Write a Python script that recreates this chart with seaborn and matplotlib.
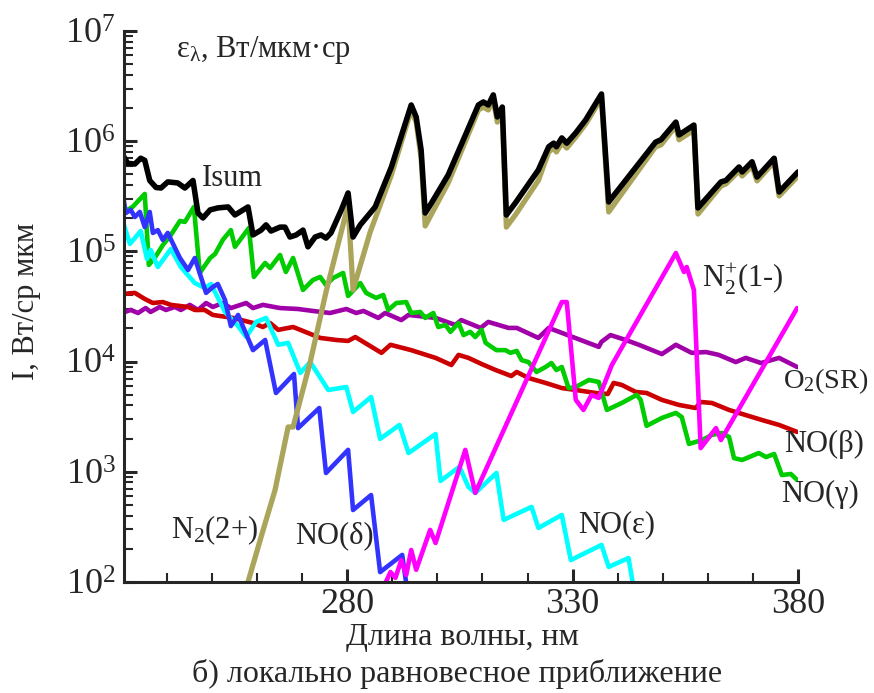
import matplotlib
matplotlib.use("Agg")
import matplotlib.pyplot as plt
import matplotlib.ticker as mticker
import seaborn as sns
import pandas as pd

# wavelength (nm) / intensity pairs
isum_x = [230.0, 231.3, 232.9, 234.2, 235.1, 236.2, 237.6, 238.7, 240.2, 242.4, 244.0, 245.8, 246.9, 248.0,
          249.6, 251.3, 253.6, 255.1, 258.0, 259.1, 260.9, 262.0, 263.1, 265.1, 266.2, 267.3, 268.7, 270.2,
          271.3, 272.9, 274.2, 275.3, 276.4, 278.7, 280.2, 281.3, 282.9, 285.1, 286.2, 289.8, 294.2, 295.3,
          296.4, 297.3, 298.7, 302.4, 309.1, 310.2, 311.3, 312.4, 313.3, 314.4, 315.3, 317.3, 322.4, 324.7,
          325.8, 326.4, 327.6, 328.7, 330.7, 332.9, 336.4, 338.0, 348.4, 349.6, 352.9, 353.6, 356.9, 357.8,
          362.9, 364.0, 366.9, 367.6, 369.8, 370.9, 374.7, 375.8, 380.0]
isum_y = [7.8e5, 6.3e5, 6.2e5, 7.0e5, 6.7e5, 4.4e5, 3.8e5, 3.76e5, 4.27e5, 4.18e5, 3.76e5, 4.4e5, 2.23e5, 2.01e5,
          2.38e5, 2.48e5, 2.53e5, 2.14e5, 2.53e5, 1.41e5, 1.56e5, 1.74e5, 1.53e5, 1.66e5, 1.66e5, 1.35e5, 1.41e5, 1.56e5,
          1.10e5, 1.35e5, 1.41e5, 1.32e5, 1.47e5, 2.38e5, 3.39e5, 1.35e5, 1.74e5, 2.23e5, 2.53e5, 5.83e5, 2.13e6, 1.66e6,
          8.3e5, 2.23e5, 2.75e5, 4.94e5, 2.13e6, 2.27e6, 2.13e6, 2.63e6, 1.66e6, 2.04e6, 2.14e5, 2.75e5, 5.48e5, 8.9e5,
          9.6e5, 8.9e5, 1.07e6, 9.6e5, 1.19e6, 1.56e6, 2.68e6, 2.81e5, 9.8e5, 1.03e6, 1.49e6, 1.14e6, 1.40e6, 2.48e5,
          4.27e5, 4.4e5, 5.83e5, 5.26e5, 6.5e5, 4.73e5, 7.0e5, 3.46e5, 5.26e5]

n2_2p_x = [258.0, 260.9, 264.0, 266.9, 268.0, 271.8, 275.3, 280.2, 281.3, 285.1, 289.8, 294.2, 295.3, 296.4,
           297.3, 298.7, 302.4, 309.1, 310.2, 311.3, 312.4, 313.3, 314.4, 315.3, 317.3, 322.4, 324.7, 325.8,
           326.4, 327.6, 328.7, 330.7, 332.9, 336.4, 338.0, 348.4, 349.6, 352.9, 353.6, 356.9, 357.8, 362.9,
           364.0, 366.9, 367.6, 369.8, 370.9, 374.7, 375.8, 380.0]
n2_2p_y = [100, 256, 684, 2550, 2550, 9900, 4.28e4, 2.64e5, 4.47e4, 1.50e5, 4.94e5, 1.92e6, 1.49e6, 7.0e5,
           1.70e5, 2.18e5, 4.18e5, 1.92e6, 2.04e6, 1.92e6, 2.37e6, 1.49e6, 1.84e6, 1.66e5, 2.14e5, 4.4e5, 7.98e5, 8.67e5,
           7.98e5, 9.6e5, 8.67e5, 1.09e6, 1.43e6, 2.47e6, 2.28e5, 8.9e5, 9.25e5, 1.37e6, 1.03e6, 1.26e6, 2.18e5, 3.92e5,
           4.09e5, 5.37e5, 4.83e5, 5.96e5, 4.36e5, 6.5e5, 3.18e5, 4.83e5]

no_g_x = [230.0, 232.4, 235.1, 236.0, 237.3, 239.1, 240.9, 242.9, 244.0, 246.0, 247.3, 249.6, 250.7, 252.4,
          254.2, 255.1, 258.2, 259.3, 261.8, 262.9, 265.1, 266.4, 268.0, 270.2, 272.4, 274.0, 275.3, 276.9,
          279.1, 280.2, 282.9, 284.2, 286.4, 288.0, 289.1, 290.9, 293.1, 294.2, 296.2, 297.3, 299.1, 300.2,
          301.8, 302.9, 304.7, 305.8, 307.3, 308.4, 309.8, 310.7, 312.0, 313.1, 315.1, 316.2, 317.6, 318.7,
          320.2, 322.0, 324.0, 325.3, 326.4, 327.6, 329.1, 330.7, 333.6, 335.8, 337.6, 340.9, 344.2, 345.1,
          346.4, 349.8, 352.9, 354.2, 355.8, 358.7, 360.9, 363.1, 364.7, 365.8, 367.6, 371.3, 372.9, 374.7,
          376.4, 378.4, 379.8]
no_g_y = [2.23e5, 2.53e5, 3.32e5, 7.53e4, 8.71e4, 1.14e5, 1.41e5, 1.89e5, 1.85e5, 2.53e5, 6.37e4, 8.71e4, 9.47e4, 1.27e5,
          1.56e5, 1.10e5, 1.63e5, 5.86e4, 7.85e4, 7.07e4, 9.27e4, 6.50e4, 8.71e4, 4.47e4, 5.50e4, 5.86e4, 4.95e4, 5.74e4,
          6.37e4, 3.94e4, 5.16e4, 4.20e4, 3.78e4, 4.02e4, 2.94e4, 3.40e4, 3.47e4, 2.76e4, 2.82e4, 2.49e4, 2.76e4, 2.06e4,
          2.15e4, 1.86e4, 2.24e4, 1.74e4, 1.86e4, 1.67e4, 1.94e4, 1.48e4, 1.36e4, 1.27e4, 1.27e4, 1.20e4, 1.25e4, 1.03e4,
          9.9e3, 8.05e3, 8.93e3, 9.7e3, 8.39e3, 8.93e3, 5.75e3, 5.88e3, 6.81e3, 6.53e3, 3.64e3, 4.21e3, 4.98e3, 4.49e3,
          2.61e3, 3.08e3, 3.42e3, 3.14e3, 1.79e3, 1.94e3, 2.16e3, 2.25e3, 2.07e3, 1.33e3, 1.28e3, 1.48e3, 1.36e3, 1.45e3,
          935, 955, 843]

no_b_x = [230.0, 232.9, 235.1, 236.9, 239.1, 240.9, 244.7, 246.2, 248.4, 250.2, 254.7, 259.1, 261.3, 262.9,
          264.7, 268.0, 269.6, 274.0, 277.6, 280.2, 281.8, 287.6, 289.6, 294.2, 299.6, 303.1, 304.7, 306.9,
          309.8, 312.9, 316.4, 317.6, 320.2, 324.0, 327.6, 330.7, 335.1, 337.8, 339.1, 340.9, 344.0, 346.4,
          349.8, 353.6, 357.3, 358.4, 360.9, 364.7, 368.4, 372.0, 375.8, 379.8]
no_b_y = [4.10e4, 4.20e4, 3.70e4, 3.40e4, 3.47e4, 3.27e4, 3.13e4, 2.94e4, 2.94e4, 2.65e4, 2.49e4, 2.24e4, 2.06e4, 2.24e4,
          1.94e4, 2.06e4, 1.94e4, 1.64e4, 1.57e4, 1.54e4, 1.67e4, 1.20e4, 1.42e4, 1.27e4, 1.08e4, 9.31e3, 1.15e4, 1.08e4,
          9.51e3, 8.39e3, 7.40e3, 8.05e3, 7.10e3, 6.40e3, 5.75e3, 5.52e3, 5.19e3, 5.08e3, 6.40e3, 6.14e3, 5.30e3, 5.19e3,
          4.49e3, 4.04e3, 3.79e3, 4.30e3, 4.21e3, 3.64e3, 3.27e3, 2.95e3, 2.66e3, 2.30e3]

o2_x = [230.0, 232.0, 233.6, 235.3, 236.4, 238.4, 239.8, 241.8, 243.1, 245.1, 246.9, 248.7, 250.2, 252.4,
        254.2, 257.6, 259.1, 261.3, 265.1, 269.1, 272.4, 276.2, 279.8, 282.0, 283.6, 286.9, 288.4, 292.0,
        293.6, 299.6, 304.0, 305.3, 309.6, 311.3, 315.8, 317.6, 322.4, 324.7, 335.8, 336.4, 338.4, 341.8,
        344.7, 349.8, 352.9, 356.4, 359.6, 362.4, 366.2, 368.4, 371.8, 375.8, 379.8]
o2_y = [2.76e4, 2.94e4, 2.76e4, 3.06e4, 2.82e4, 3.13e4, 2.94e4, 3.13e4, 2.94e4, 3.27e4, 2.94e4, 3.40e4, 3.13e4, 3.40e4,
        3.06e4, 3.40e4, 3.06e4, 3.27e4, 3.06e4, 3.00e4, 2.88e4, 2.76e4, 3.00e4, 2.76e4, 2.88e4, 2.49e4, 2.76e4, 2.38e4,
        2.65e4, 2.49e4, 2.15e4, 2.38e4, 2.02e4, 2.29e4, 2.02e4, 2.02e4, 1.64e4, 2.02e4, 1.36e4, 1.51e4, 1.74e4, 1.57e4,
        1.42e4, 1.17e4, 1.42e4, 1.20e4, 1.22e4, 1.15e4, 9.9e3, 1.08e4, 9.7e3, 1.08e4, 8.93e3]

no_d_x = [230.0, 230.9, 232.0, 232.9, 234.0, 235.1, 236.2, 236.9, 238.0, 239.1, 240.2, 242.9, 244.7, 246.2,
          248.7, 250.2, 251.3, 252.9, 254.2, 255.8, 259.1, 261.8, 264.2, 268.2, 269.1, 273.8, 275.3, 280.2,
          281.3, 285.3, 287.3, 292.2, 293.3]
no_d_y = [3.76e5, 2.23e5, 2.38e5, 2.05e5, 2.28e5, 1.66e5, 2.28e5, 1.47e5, 1.56e5, 1.27e5, 1.47e5, 8.71e4, 6.78e4, 8.71e4,
          4.20e4, 4.75e4, 5.06e4, 3.62e4, 2.10e4, 2.65e4, 1.27e4, 1.57e4, 5.19e3, 7.71e3, 2.49e3, 3.79e3, 975, 1.58e3,
          450, 615, 123, 176, 85]

no_e_x = [230.0, 231.8, 232.9, 234.2, 235.6, 236.4, 238.0, 240.9, 243.1, 246.2, 248.4, 249.8, 252.9, 255.8,
          257.6, 259.8, 262.0, 264.7, 266.9, 269.6, 271.8, 275.8, 279.8, 281.3, 285.3, 287.3, 291.6, 293.6,
          299.6, 300.7, 304.9, 306.9, 308.4, 313.1, 314.7, 320.9, 322.4, 327.6, 329.6, 336.4, 338.0, 342.4, 343.6]
no_e_y = [2.01e5, 1.17e5, 1.32e5, 1.53e5, 8.53e4, 1.03e5, 7.22e4, 1.05e5, 7.22e4, 5.16e4, 4.66e4, 5.06e4, 2.82e4, 2.10e4,
          1.67e4, 2.29e4, 2.49e4, 1.42e4, 1.48e4, 7.89e3, 9.9e3, 5.52e3, 5.88e3, 3.49e3, 4.77e3, 1.99e3, 2.66e3, 1.48e3,
          2.20e3, 826, 1.11e3, 728, 643, 975, 366, 480, 309, 406, 158, 217, 137, 165, 85]

n2p_x = [287.8, 289.6, 290.7, 292.0, 293.1, 294.2, 295.3, 298.4, 299.6, 306.2, 308.4, 327.6, 328.7, 330.7,
         332.4, 334.2, 335.8, 338.7, 352.9, 354.7, 355.3, 356.9, 358.4, 361.8, 362.9, 379.8]
n2p_y = [85, 123, 109, 158, 116, 195, 129, 297, 226, 1.58e3, 643, 3.47e4, 3.47e4, 4.49e3,
         3.64e3, 4.98e3, 4.68e3, 9.31e3, 9.66e4, 6.50e4, 7.22e4, 4.47e4, 1.64e3, 2.49e3, 1.94e3, 3.06e4]

x_major = [280, 330, 380]

sns.set_style("ticks")
plt.rcParams['font.family'] = ['Liberation Serif', 'DejaVu Serif']
plt.rcParams['mathtext.fontset'] = 'custom'
plt.rcParams['mathtext.rm'] = 'Liberation Serif'
plt.rcParams['mathtext.it'] = 'Liberation Serif:italic'
plt.rcParams['mathtext.bf'] = 'Liberation Serif:bold'

fig = plt.figure(figsize=(8.74, 6.93), dpi=100)
ax = fig.add_axes([0.1419, 0.1602, 0.7712, 0.7951])

# (x, y, colour, width) drawn back to front
series = [
    (o2_x, o2_y, '#A000A8', 3.3),
    (no_b_x, no_b_y, '#CC0000', 3.3),
    (no_g_x, no_g_y, '#00CC00', 3.3),
    (no_e_x, no_e_y, '#00FFFF', 3.3),
    (no_d_x, no_d_y, '#3333FF', 3.3),
    (n2p_x, n2p_y, '#FF00FF', 3.3),
    (n2_2p_x, n2_2p_y, '#ABA55C', 3.8),
    (isum_x, isum_y, '#000000', 4.0),
]
for xs, ys, col, lw in series:
    d = pd.DataFrame({'wl': xs, 'I': ys})
    sns.lineplot(data=d, x='wl', y='I', ax=ax, color=col, linewidth=lw,
                 sort=False, estimator=None)

ax.set_yscale('log')
ax.set_xlim(230.5, 380)
ax.set_ylim(1e2, 1e7)
ax.xaxis.set_major_locator(mticker.FixedLocator(x_major))
ax.xaxis.set_minor_locator(mticker.MultipleLocator(10))
ax.yaxis.set_major_locator(mticker.LogLocator(base=10, numticks=10))
ax.yaxis.set_minor_locator(mticker.LogLocator(base=10, subs=range(2, 10), numticks=20))
ax.yaxis.set_minor_formatter(mticker.NullFormatter())

sns.despine(ax=ax)
for s in ['left', 'bottom']:
    ax.spines[s].set_linewidth(2.2)
ax.tick_params(which='major', direction='in', length=9.5, width=2.2, labelsize=26, pad=6)
ax.tick_params(which='minor', direction='in', length=6.5, width=1.5)
ax.tick_params(axis='x', which='major', pad=4)
ax.set_xlabel('')
ax.set_ylabel('')

fs = 22
ax.text(242.0, 6.7e6, r'ε$_\mathregular{λ}$, Вт/мкм·ср', fontsize=22, ha='left', va='center')
ax.text(247.8, 4.6e5, 'Isum', fontsize=22, ha='left', va='center')
ax.text(358.7, 4.75e4, r'N$_\mathregular{2}^\mathregular{+}$(1-)', fontsize=fs, ha='left', va='baseline', clip_on=False)
ax.text(376.7, 5.75e3, r'O$_\mathregular{2}$(SR)', fontsize=20.5, ha='left', va='baseline', clip_on=False)
ax.text(376.9, 1.51e3, 'NO(β)', fontsize=fs, ha='left', va='baseline', clip_on=False)
ax.text(376.2, 532, 'NO(γ)', fontsize=fs, ha='left', va='baseline', clip_on=False)
ax.text(331.3, 284, 'NO(ε)', fontsize=fs, ha='left', va='baseline')
ax.text(268.4, 226, 'NO(δ)', fontsize=fs, ha='left', va='baseline')
ax.text(240.9, 250, r'N$_\mathregular{2}$(2+)', fontsize=fs, ha='left', va='baseline')

fig.text(27 / 874, 1 - 301 / 693, 'I, Вт/ср мкм', fontsize=22, rotation=90, ha='center', va='center')
fig.text(462 / 874, 1 - 638 / 693, 'Длина волны, нм', fontsize=23, ha='center', va='center')
fig.text(457 / 874, 1 - 674 / 693, 'б) локально равновесное приближение', fontsize=23, ha='center', va='center')

fig.savefig('out.png', dpi=100)
